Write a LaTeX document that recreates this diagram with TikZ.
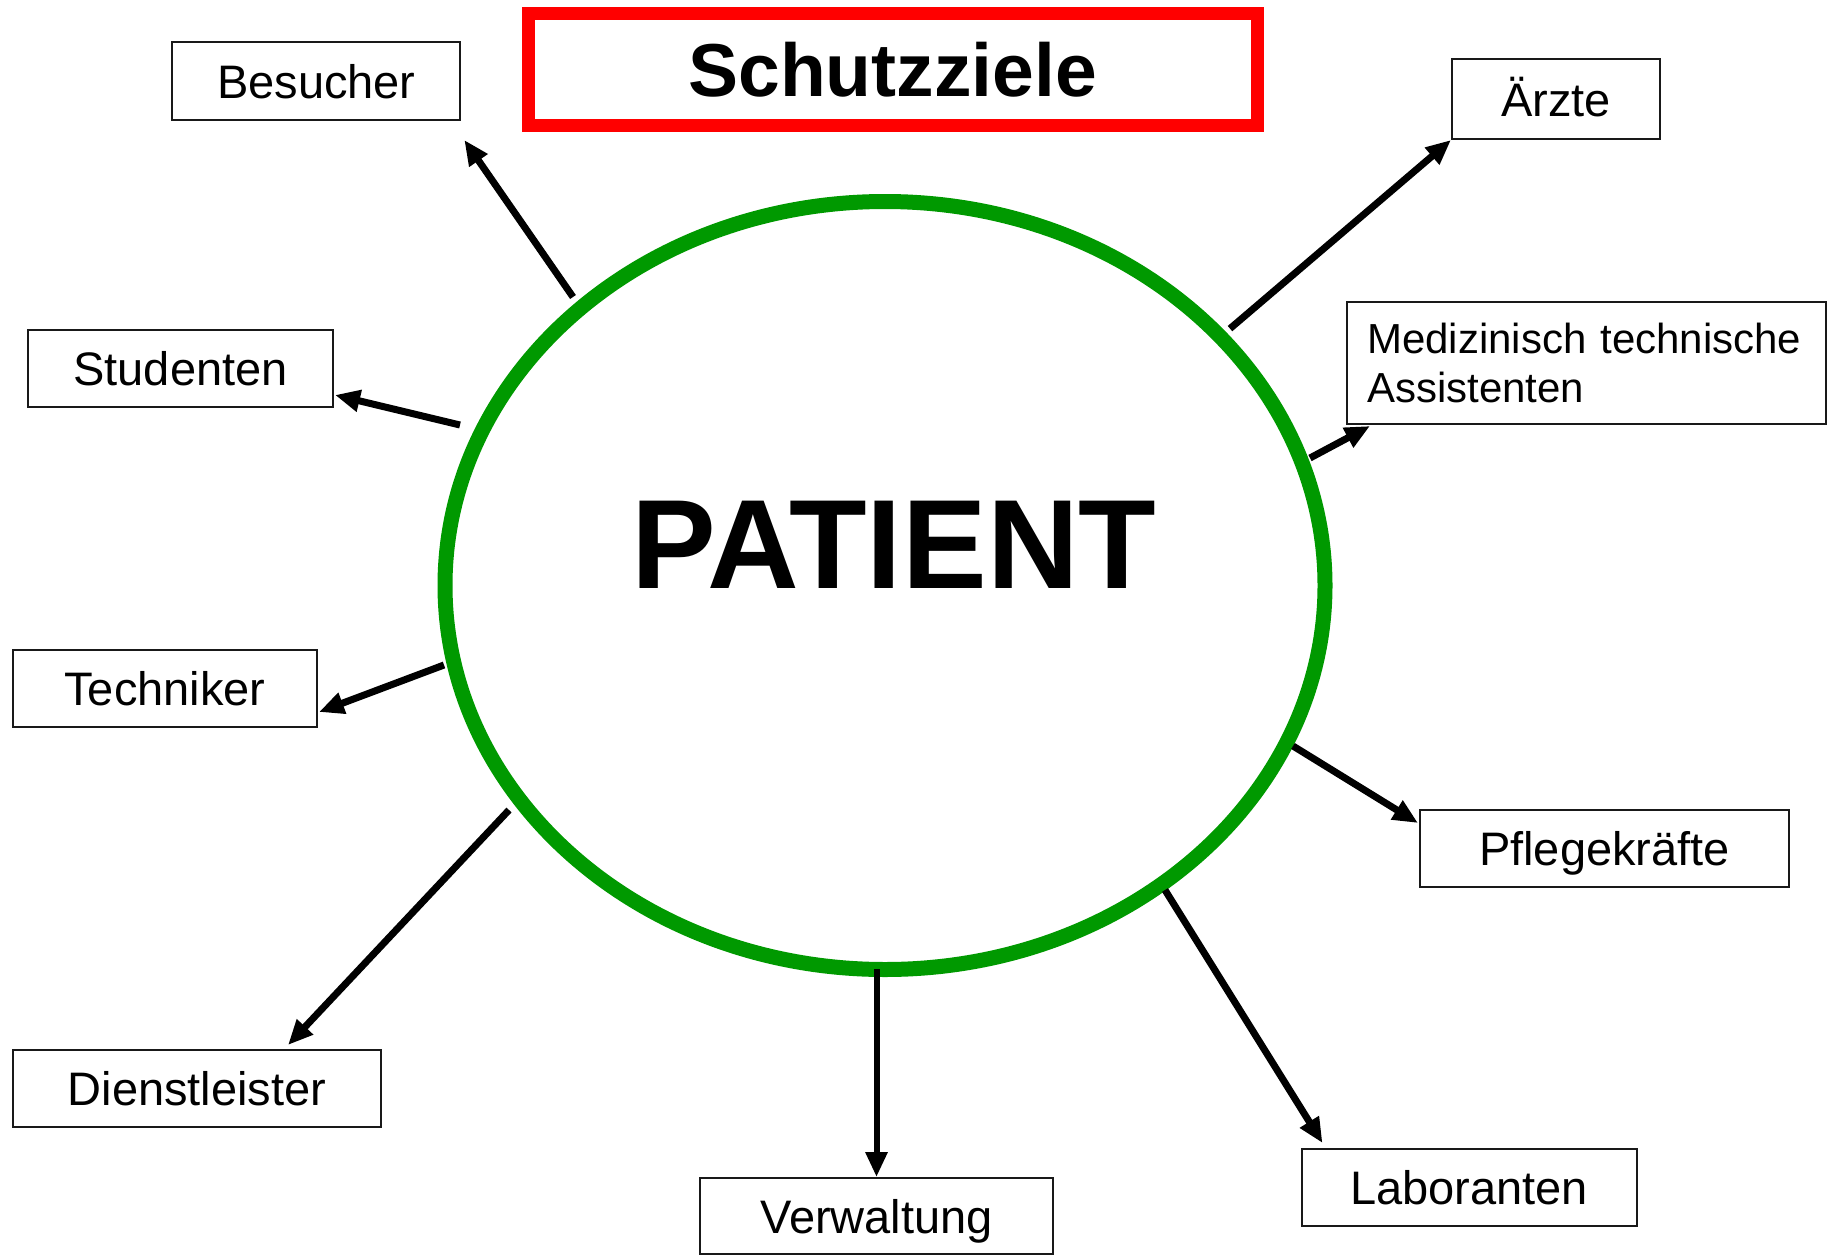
\documentclass[tikz,border=0pt]{standalone}
\usepackage{fontspec}
\setmainfont{Liberation Sans}
\usetikzlibrary{arrows.meta,shapes.geometric,calc}
\definecolor{ringgreen}{RGB}{0,153,0}
\definecolor{titlered}{RGB}{255,0,0}
\begin{document}
\begin{tikzpicture}[x=1pt,y=-1pt,
  framebox/.style={draw=black!90,line width=2pt,inner sep=0pt},
  box/.style={framebox,align=center,text height=34pt,text depth=0pt,
    font=\fontsize{47}{56}\selectfont},
  conn/.style={line width=7pt,-{Triangle[length=25pt,width=21pt]}},
]
\useasboundingbox (0,0) rectangle (1827,1255);
\fill[white] (0,0) rectangle (1827,1255);

% title
\node[draw=titlered,line width=13pt,minimum width=729pt,minimum height=111pt,inner sep=0pt,
  font=\fontsize{75}{80}\selectfont\bfseries] (title) at (892.5,69.5) {Schutzziele};

% ring and patient
\node[ellipse,draw=ringgreen,line width=15pt,minimum width=880pt,minimum height=768pt,inner sep=0pt] (ring) at (885,585.5) {};
\node[font=\fontsize{127}{130}\selectfont\bfseries,inner sep=0pt] (patient) at (894,545) {PATIENT};

% boxes
\node[box,minimum width=288pt,minimum height=78pt] (besucher) at (316.3,81) {Besucher};
\node[box,minimum width=305pt,minimum height=77pt] (studenten) at (180.5,368.5) {Studenten};
\node[box,minimum width=304pt,minimum height=77pt] (techniker) at (165,688.5) {Techniker};
\node[box,minimum width=368pt,minimum height=77pt] (dienst) at (197,1088.5) {Dienstleister};
\node[box,minimum width=353pt,minimum height=76pt] (verw) at (876.5,1216) {Verwaltung};
\node[box,minimum width=335pt,minimum height=77pt] (labor) at (1469,1187.5) {Laboranten};
\node[box,minimum width=369pt,minimum height=77pt] (pflege) at (1604.5,848.5) {Pflegekräfte};
\node[framebox,minimum width=479pt,minimum height=122pt,inner xsep=20pt,text width=439pt,align=left,
  font=\fontsize{42}{49}\selectfont] (mta) at (1586.5,363) {Medizinisch technische\\Assistenten};
\node[box,minimum width=208pt,minimum height=80pt] (aerzte) at (1556,99) {Ärzte};

% tails on the ring
\coordinate (tb) at (573,297);
\coordinate (ts) at (460,425);
\coordinate (tt) at (444,665);
\coordinate (td) at (509,810);
\coordinate (tv) at (876.5,969);
\coordinate (tl) at (1165,890);
\coordinate (tp) at (1293,746);
\coordinate (tm) at (1310,458);
\coordinate (ta) at (1230,328.6);

% connectors
\draw[conn] (tb) -- ($(besucher.south east)+(3,19)$);
\draw[conn] (ts) -- ($(studenten.south east)+(1,-13)$);
\draw[conn] (tt) -- ($(techniker.south east)+(1,-16)$);
\draw[conn] (td) -- ($(dienst.north)+(91,-4)$);
\draw[conn,line width=6pt] (tv) -- (verw.north);
\draw[conn] (tl) -- ($(labor.north west)+(22,-5)$);
\draw[conn] (tp) -- ($(pflege.north west)+(-1,14)$);
\draw[conn] (tm) -- ($(mta.south west)+(24,1)$);
\draw[conn] (ta) -- (aerzte.south west);
\end{tikzpicture}
\end{document}
